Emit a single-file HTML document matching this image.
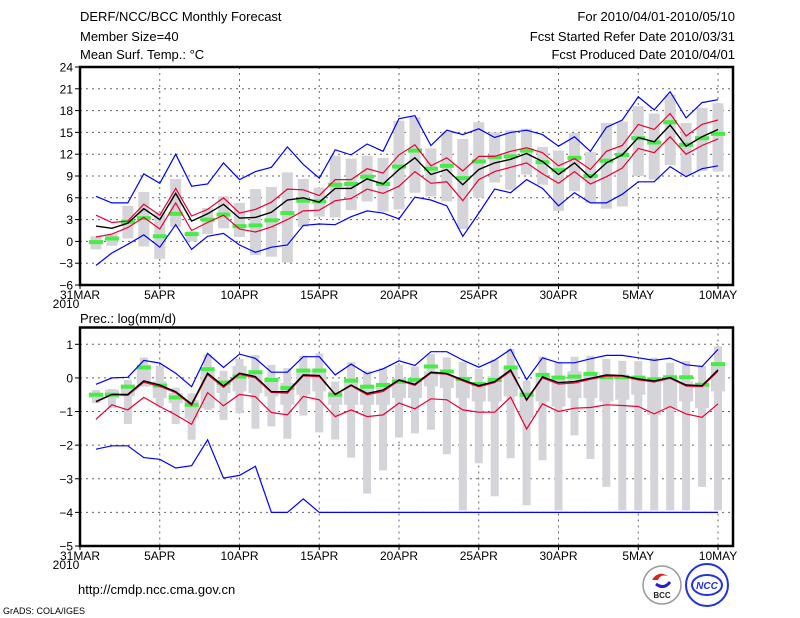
<!DOCTYPE html>
<html><head><meta charset="utf-8">
<style>
body{margin:0;background:#fff;}
svg{display:block;font-family:"Liberation Sans",sans-serif;}
</style></head>
<body>
<svg id="c" width="800" height="618" viewBox="0 0 800 618">
<rect x="0" y="0" width="800" height="618" fill="#fff"/>
<g font-size="13" fill="#000">
<text x="80" y="21">DERF/NCC/BCC Monthly Forecast</text>
<text x="80" y="41">Member Size=40</text>
<text x="80" y="59">Mean Surf. Temp.: °C</text>
<text x="735" y="21" text-anchor="end">For 2010/04/01-2010/05/10</text>
<text x="735" y="41" text-anchor="end">Fcst Started Refer Date 2010/03/31</text>
<text x="735" y="59" text-anchor="end">Fcst Produced Date 2010/04/01</text>
<text x="80" y="323">Prec.: log(mm/d)</text>
<text x="78" y="594">http://cmdp.ncc.cma.gov.cn</text>
<text x="3" y="614" font-size="9">GrADS: COLA/IGES</text>
</g>
<g>
<circle cx="662" cy="585" r="19" fill="#fff" stroke="#999" stroke-width="1.5"/>
<path d="M652 580 q6 -10 16 -4 q-8 -2 -10 4 z" fill="#d22"/>
<path d="M656 584 q8 6 14 -2" fill="none" stroke="#22c" stroke-width="3"/>
<text x="662" y="598" font-size="8" font-weight="bold" text-anchor="middle" fill="#222">BCC</text>
</g>
<g>
<circle cx="707" cy="585" r="21" fill="#fff" stroke="#23d" stroke-width="2"/>
<ellipse cx="707" cy="585" rx="15" ry="10" fill="none" stroke="#23d" stroke-width="2"/>
<text x="707" y="589" font-size="10" font-weight="bold" font-style="italic" text-anchor="middle" fill="#23d">NCC</text>
</g>
</svg>
<script>
const dayLabels = ["31MAR","5APR","10APR","15APR","20APR","25APR","30APR","5MAY","10MAY"];
const tTicks = [-6,-3,0,3,6,9,12,15,18,21,24];
const pTicks = [-5,-4,-3,-2,-1,0,1];
const tBlueMax = [6.2,5.3,5.3,9.3,8.0,12.0,7.6,7.9,10.8,8.5,9.6,10.2,13.0,10.6,8.7,12.6,11.9,13.4,12.4,16.9,17.3,13.2,15.3,14.7,15.5,14.3,15.0,15.3,14.7,13.1,14.4,12.4,15.7,16.7,19.9,18.1,20.6,17.0,19.1,19.5];
const tBlueMin = [-3.3,-1.6,-0.4,0.9,-0.8,2.3,-1.1,0.7,1.1,-0.5,-1.5,-0.8,-0.5,2.2,2.4,2.3,3.4,4.2,3.9,3.1,6.1,5.7,4.9,0.7,3.9,7.2,6.7,8.5,7.3,4.9,6.7,5.3,5.3,6.5,8.2,8.2,10.3,8.9,10.0,10.4];
const tRedUp = [3.6,2.6,2.8,5.1,3.6,7.3,3.5,4.4,6.0,3.9,4.4,5.4,7.2,7.1,6.3,8.5,8.5,10.0,9.4,11.9,13.3,10.4,11.5,9.7,11.7,11.7,12.4,12.9,12.2,10.4,11.4,9.9,12.4,13.2,16.1,15.4,17.6,14.5,16.1,16.7];
const tMean = [2.1,1.8,2.5,4.5,3.0,6.6,2.8,3.8,5.1,3.2,3.3,4.0,5.7,6.0,5.4,7.3,7.3,8.6,7.9,9.9,11.5,9.2,9.9,7.8,9.9,10.8,11.3,12.1,11.0,9.2,10.8,8.8,10.8,11.9,14.3,13.7,16.0,13.1,14.4,15.4];
const tRedLo = [0.6,1.0,1.9,3.3,1.7,5.3,1.5,2.6,3.6,1.7,1.3,2.0,3.0,4.2,4.3,5.6,5.9,7.2,6.6,7.6,9.6,8.0,8.2,5.6,8.5,9.6,10.2,10.8,9.3,8.0,9.6,7.9,8.9,10.1,12.8,12.2,14.4,12.0,13.2,14.1];
const tGreen = [-0.1,0.4,2.7,3.2,0.7,3.8,1.0,3.0,3.7,2.1,2.2,2.9,3.9,5.6,5.5,7.8,7.9,8.9,7.9,10.3,12.5,10.0,10.4,8.7,11.0,11.6,11.7,12.5,10.9,9.8,11.5,9.0,11.1,11.9,14.2,13.6,16.4,13.3,14.2,14.8];
const tHi = [0.7,1.0,4.9,6.8,4.1,8.6,1.4,4.6,6.2,5.3,7.2,7.5,9.5,8.6,7.4,11.8,11.4,11.8,11.5,16.6,17.1,12.8,15.1,14.1,16.4,15.0,15.3,15.5,13.0,12.5,14.9,12.3,16.3,16.5,18.6,17.6,20.2,16.3,18.4,19.0];
const tLo = [-1.1,-0.6,0.4,-0.7,-2.4,2.0,0,1.0,1.8,0.6,-1.9,-2.1,-2.9,2.0,3.4,3.3,4.3,5.5,4.1,4.4,6.7,6.2,5.5,1.7,6.0,8.1,7.1,9.2,7.8,4.2,6.9,5.3,4.5,4.8,9.0,8.5,10.5,9.1,9.7,9.6];
const pBlueMax = [-0.19,0,0.02,0.52,0.44,0.14,-0.26,0.73,0.31,0.71,0.58,0.17,0.17,0.63,0.63,0.09,0.41,0.12,0.27,0.51,0.37,0.78,0.78,0.53,0.32,0.53,0.85,-0.05,0.6,0.45,0.45,0.57,0.67,0.67,0.6,0.52,0.59,0.39,0.34,0.85];
const pBlueMin = [-2.12,-2.02,-2.02,-2.37,-2.42,-2.68,-2.61,-1.84,-2.98,-2.90,-2.63,-4,-4,-3.6,-4,-4,-4,-4,-4,-4,-4,-4,-4,-4,-4,-4,-4,-4,-4,-4,-4,-4,-4,-4,-4,-4,-4,-4,-4,-4];
const pMean = [-0.70,-0.49,-0.49,-0.09,-0.21,-0.41,-0.78,0.14,-0.24,0.14,0.04,-0.41,-0.41,0.09,0.07,-0.49,-0.21,-0.46,-0.36,-0.06,-0.19,0.17,0.13,-0.06,-0.23,-0.11,0.24,-0.65,0.03,-0.14,-0.11,-0.01,0.09,0.07,-0.03,-0.09,0.01,-0.21,-0.23,0.24];
const pRedUp = [-0.72,-0.5,-0.52,-0.13,-0.25,-0.44,-0.82,0.1,-0.28,0.11,0.0,-0.43,-0.45,0.06,0.04,-0.5,-0.23,-0.5,-0.4,-0.08,-0.22,0.14,0.11,-0.09,-0.26,-0.14,0.2,-0.67,0.0,-0.18,-0.15,-0.04,0.05,0.05,-0.06,-0.12,-0.01,-0.24,-0.26,0.2];
const pRedLo = [-1.23,-0.8,-0.95,-0.58,-0.85,-1.1,-1.38,-0.44,-0.83,-0.49,-0.56,-1.03,-1.1,-0.55,-0.65,-1.15,-0.95,-1.15,-1.1,-0.75,-0.92,-0.62,-0.65,-0.95,-1.02,-1.02,-0.57,-1.52,-0.77,-1.0,-0.9,-0.88,-0.8,-0.82,-0.85,-1.07,-0.85,-1.07,-1.17,-0.77];
const pGreen = [-0.5,-0.5,-0.26,0.31,-0.23,-0.58,-0.8,0.26,-0.14,0.04,0.17,-0.06,-0.3,0.22,0.22,-0.5,-0.08,-0.26,-0.21,-0.11,-0.06,0.34,0.19,-0.03,-0.18,-0.06,0.31,-0.5,0.09,0.01,0.04,0.12,0.02,0.02,0.01,-0.04,0.02,0.02,-0.2,0.41];
const pHi = [-0.36,-0.33,-0.06,0.61,0.37,-0.29,-0.46,0.70,0.21,0.56,0.68,0.39,0.29,0.66,0.73,-0.11,0.47,0.21,0.29,0.39,0.34,0.71,0.61,0.47,0.27,0.55,0.86,-0.08,0.63,0.48,0.63,0.66,0.56,0.51,0.5,0.6,0.45,0.5,0.36,0.94];
const pLo = [-0.75,-0.9,-1.37,-0.26,-0.85,-1.37,-1.84,-0.95,-1.25,-1.05,-1.51,-1.44,-1.81,-1.12,-1.62,-1.83,-2.37,-3.44,-2.75,-1.77,-1.65,-1.54,-2.27,-3.94,-2.54,-3.52,-2.39,-3.79,-2.45,-3.94,-1.71,-2.41,-3.24,-3.94,-3.94,-3.94,-3.94,-3.94,-3.24,-3.94];
const pQ3 = [-0.45,-0.35,-0.2,0.4,-0.1,-0.45,-0.65,0.25,-0.05,0.35,0.2,0.0,-0.15,0.25,0.2,-0.4,-0.05,-0.25,-0.2,0.0,-0.05,0.2,0.1,0.0,-0.15,0.05,0.3,-0.4,0.1,0.0,0.2,0.15,0.05,0.1,0.0,-0.05,0.0,-0.1,-0.2,0.4];
const pQ1 = [-0.6,-0.6,-0.55,-0.25,-0.6,-0.75,-1.2,-0.9,-0.45,-0.4,-0.45,-0.55,-0.8,-0.5,-0.4,-0.8,-0.8,-0.8,-0.8,-0.6,-0.6,-0.25,-0.3,-0.6,-0.7,-0.7,-0.55,-1.2,-0.7,-0.85,-0.6,-0.6,-0.7,-0.65,-0.5,-1.1,-0.9,-0.7,-0.9,-0.4];

const NS = "http://www.w3.org/2000/svg";
const svg = document.getElementById("c");
function mk(tag, attrs, parent){
  const e = document.createElementNS(NS, tag);
  for (const k in attrs) e.setAttribute(k, attrs[k]);
  (parent||svg).appendChild(e);
  return e;
}
const X0 = 80, X1 = 733, DX = 15.95;
function xS(i){ return X0 + i*DX; }

function panel(name, yTop, yBot, vMax, vMin, ticks, d){
  const yS = v => yTop + (vMax - v) * (yBot - yTop) / (vMax - vMin);
  const g = mk("g", {});
  
  
  ticks.forEach(t => {
    if (t === vMax || t === vMin) return;
    const l = mk("line", {x1:X0, x2:X1, y1:yS(t), y2:yS(t), stroke:"#666", "stroke-width":1, "stroke-dasharray":"2,4"}, g);
    
    
  });
  dayLabels.forEach((lab, k) => {
    const x = xS(k*5);
    if (k > 0) {
      const l = mk("line", {x1:x, x2:x, y1:yTop, y2:yBot, stroke:"#666", "stroke-width":1, "stroke-dasharray":"2,4"}, g);
      
      
    }
    const tk = mk("line", {x1:x, x2:x, y1:yBot, y2:yBot+4, stroke:"#000", "stroke-width":1}, g);
    
    
    const t = mk("text", {x:x, y:yBot+14, "font-size":12, "text-anchor":"middle"}, g);
    t.textContent = lab;
    
    
  });
  const yr = mk("text", {x:X0-14, y:yBot+23, "font-size":12, "text-anchor":"middle"}, g);
  yr.textContent = "2010";
  
  
  ticks.forEach(t => {
    const tk = mk("line", {x1:X0-5, x2:X0, y1:yS(t), y2:yS(t), stroke:"#000", "stroke-width":1}, g);
    
    
    const tx = mk("text", {x:X0-7, y:yS(t)+4.5, "font-size":12, "text-anchor":"end"}, g);
    tx.textContent = (t < 0 ? "\u2212" + (-t) : String(t));
    
    
  });
  d.hi.forEach((h, i) => {
    const x = xS(i+1);
    const w = mk("rect", {x:x-d.ww/2, y:yS(h), width:d.ww, height:Math.max(0, yS(d.lo[i]) - yS(h)), fill:"#d4d4d9"}, g);
    
    
    if (d.q3) {
      const b = mk("rect", {x:x-7, y:yS(d.q3[i]), width:14, height:Math.max(0, yS(d.q1[i]) - yS(d.q3[i])), fill:"#d4d4d9"}, g);
      
      
    }
  });
  d.green.forEach((v, i) => {
    const r = mk("rect", {x:xS(i+1)-7, y:yS(v)-2, width:14, height:4, fill:"#44ee44"}, g);
    
    
  });
  const line = (arr, col, w, nm) => {
    const p = mk("polyline", {points: arr.map((v,i) => xS(i+1).toFixed(1)+","+yS(v).toFixed(1)).join(" "), fill:"none", stroke:col, "stroke-width":w}, g);
    
    
  };
  line(d.bMax, "#0000ff", 1.2, "max-line");
  line(d.bMin, "#0000ff", 1.2, "min-line");
  line(d.rUp, "#ee0033", 1.2, "upper-red-line");
  line(d.rLo, "#ee0033", 1.2, "lower-red-line");
  line(d.mean, "#000", 1.4, "ensemble-mean-line");
  const f = mk("rect", {x:X0, y:yTop, width:X1-X0, height:yBot-yTop, fill:"none", stroke:"#000", "stroke-width":2.5}, g);
  
  
}

panel("temperature-panel", 67, 285, 24, -6, tTicks,
  {hi:tHi, lo:tLo, ww:11, green:tGreen, bMax:tBlueMax, bMin:tBlueMin, rUp:tRedUp, rLo:tRedLo, mean:tMean});
panel("precipitation-panel", 344.3 - 0.5*33.6, 546, 1.5, -5, pTicks,
  {hi:pHi, lo:pLo, ww:8, q3:pQ3, q1:pQ1, green:pGreen, bMax:pBlueMax, bMin:pBlueMin, rUp:pRedUp, rLo:pRedLo, mean:pMean});
</script>
</body></html>
